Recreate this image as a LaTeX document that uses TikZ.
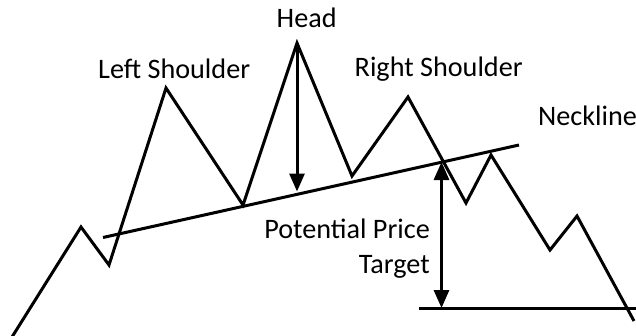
\documentclass[tikz,border=0pt]{standalone}
\usepackage{fontspec}
\setmainfont{Carlito}
\usetikzlibrary{arrows.meta}
\tikzset{
  pline/.style={line width=3pt, line join=miter, line cap=butt},
  lbl/.style={inner sep=0pt, font=\fontsize{28.2}{34}\selectfont},
  arr/.style={line width=3pt, -{Triangle[length=18pt,width=15pt]}},
  darr/.style={line width=3pt, {Triangle[length=18pt,width=15pt]}-{Triangle[length=18pt,width=15pt]}}
}
\begin{document}
\begin{tikzpicture}[x=1pt,y=-1pt]
\useasboundingbox (0,0) rectangle (636,335);
% price path vertices
\coordinate (p0) at (12,337);
\coordinate (p1) at (81,227);
\coordinate (p2) at (109,265);
\coordinate (ls) at (166,88);
\coordinate (p4) at (243,205);
\coordinate (hd) at (297,43);
\coordinate (p6) at (352,176);
\coordinate (rs) at (408,97);
\coordinate (p8) at (466,203);
\coordinate (p9) at (491,155);
\coordinate (p10) at (550,250);
\coordinate (p11) at (577,216);
\coordinate (p12) at (634,321);
\draw[pline] (p0) -- (p1) -- (p2) -- (ls) -- (p4) -- (hd) -- (p6) -- (rs) -- (p8) -- (p9) -- (p10) -- (p11) -- (p12);
% neckline
\coordinate (nA) at (103,237.5);
\coordinate (nB) at (519,145);
\draw[pline] (nA) -- (nB);
\coordinate (hk) at (297,191.5);
\coordinate (tk) at (441.5,162);
\coordinate (tb) at (441.5,308);
\coordinate (bA) at (419,308);
\coordinate (bB) at (636,308);
\draw[pline] (bA) -- (bB);
\draw[arr] (hd) -- (hk);
\draw[darr] (tk) -- (tb);
% labels
\node[lbl, anchor=base west] (tls) at (98,78) {Left Shoulder};
\node[lbl, anchor=base west] (thd) at (276.5,27.3) {Head};
\node[lbl, anchor=base west] (trs) at (354.5,76.7) {Right Shoulder};
\node[lbl, anchor=base west] (tnk) at (538,125) {Neckline};
\node[lbl, anchor=base east] (tp1) at (430,238) {Potential Price};
\node[lbl, anchor=base east] (tp2) at (430,273) {Target};
\end{tikzpicture}
\end{document}
